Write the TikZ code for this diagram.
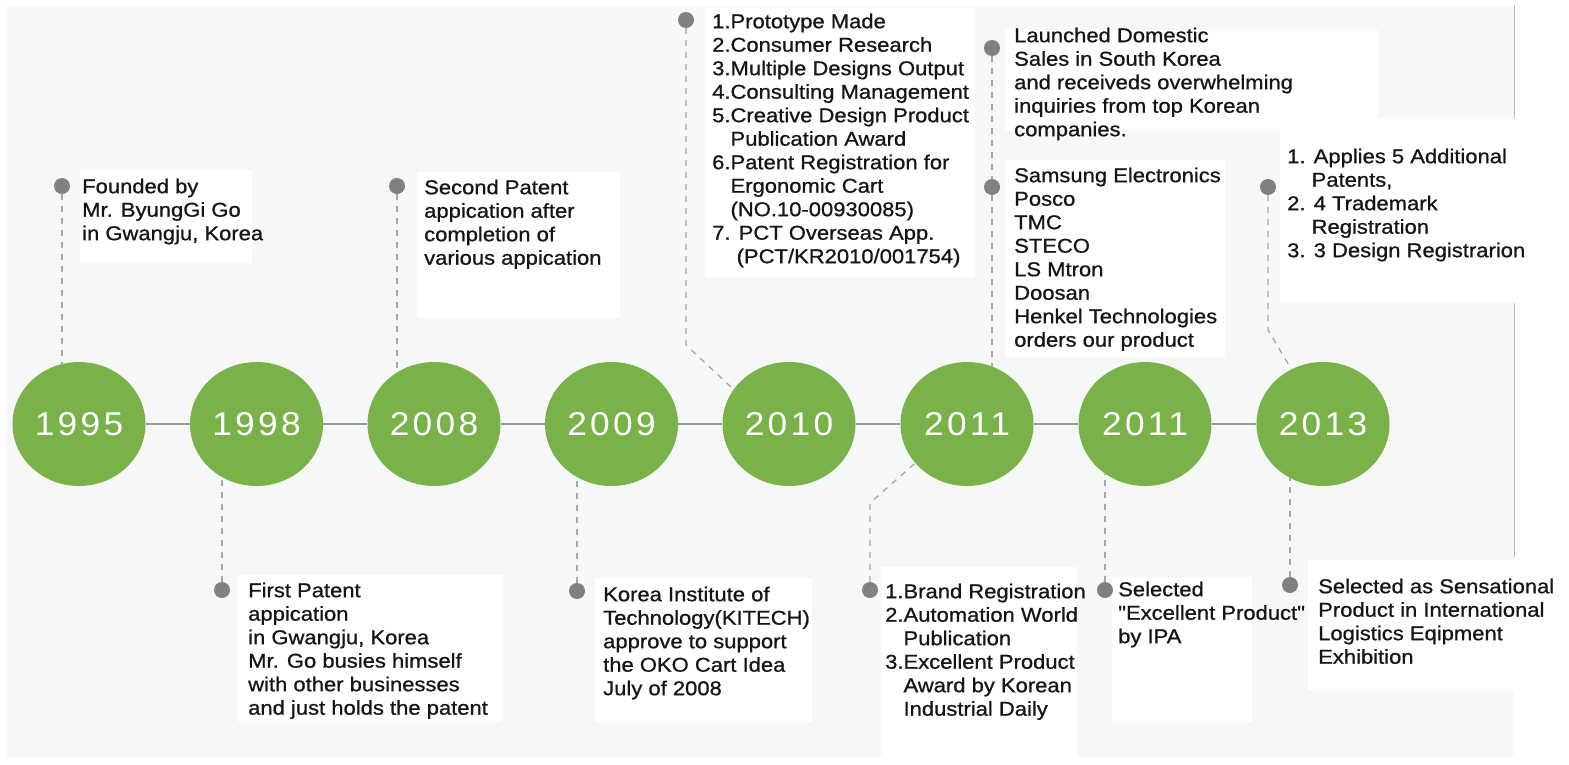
\documentclass[tikz,border=0pt]{standalone}
\usepackage{fontspec}
\setmainfont{Liberation Sans}
\newfontfamily\txtfont[FakeStretch=1.1,FakeBold=0.8]{Liberation Sans}
\newfontfamily\yrfont[FakeStretch=1.07,LetterSpace=10]{Liberation Sans}
\usetikzlibrary{shapes.geometric,calc}
\definecolor{panel}{HTML}{F6F7F7}
\definecolor{yrgreen}{RGB}{122,178,74}
\definecolor{dotgray}{HTML}{808080}
\definecolor{dashgray}{HTML}{A6A6A6}
\definecolor{linegray}{HTML}{999999}
\definecolor{edgegray}{HTML}{B8B8B8}
\definecolor{txt}{HTML}{151515}
\begin{document}
\begin{tikzpicture}[x=1pt,y=-1pt,
  year/.style={ellipse,fill=yrgreen,minimum width=133pt,minimum height=124pt,inner sep=0pt,text=white,font=\yrfont\fontsize{33}{33}\selectfont},
  dot/.style={circle,fill=dotgray,minimum size=16pt,inner sep=0pt},
  info/.style={anchor=north west,inner sep=0pt,align=left,text=txt,font=\txtfont\fontsize{20}{23.5}\selectfont},
  conn/.style={draw=dashgray,line width=1.3pt,dash pattern=on 6pt off 6pt},
  tl/.style={draw=linegray,line width=2pt},
  wbox/.style={fill=white}]
\useasboundingbox (0,0) rectangle (1569,764);
\fill[white] (0,0) rectangle (1569,764);
% panel
\fill[panel] (7,7) rectangle (1514,757);
\draw[edgegray,line width=1pt] (1514,5) -- (1514,118);
\draw[edgegray,line width=1pt] (1514,303) -- (1514,557);
% white text boxes
\fill[wbox] (80,170) rectangle (252,263);
\fill[wbox] (238,575) rectangle (502,722);
\fill[wbox] (417,172) rectangle (620,318);
\fill[wbox] (595,578) rectangle (812,722);
\fill[wbox] (705,8) rectangle (975,277);
\fill[wbox] (1005,30) rectangle (1378,130);
\fill[wbox] (1005,160) rectangle (1225,357);
\fill[wbox] (882,567) rectangle (1077,760);
\fill[wbox] (1112,577) rectangle (1252,722);
\fill[wbox] (1280,118) rectangle (1569,302);
\fill[wbox] (1308,560) rectangle (1569,690);
% year circles
\node[year] (y95) at (79,424) {1995};
\node[year] (y98) at (256.5,424) {1998};
\node[year] (y08) at (434,424) {2008};
\node[year] (y09) at (611.5,424) {2009};
\node[year] (y10) at (789,424) {2010};
\node[year] (y11a) at (967,424) {2011};
\node[year] (y11b) at (1145,424) {2011};
\node[year] (y13) at (1323,424) {2013};
% timeline
\draw[tl] (y95) -- (y98);
\draw[tl] (y98) -- (y08);
\draw[tl] (y08) -- (y09);
\draw[tl] (y09) -- (y10);
\draw[tl] (y10) -- (y11a);
\draw[tl] (y11a) -- (y11b);
\draw[tl] (y11b) -- (y13);
% dots
\node[dot] (d95) at (62,186) {};
\node[dot] (d98) at (222,590) {};
\node[dot] (d08) at (397,186) {};
\node[dot] (d09) at (577,591) {};
\node[dot] (d10) at (686,20) {};
\node[dot] (d11t) at (992,48) {};
\node[dot] (d11m) at (992,187) {};
\node[dot] (d11b) at (870,590) {};
\node[dot] (d11c) at (1105,590) {};
\node[dot] (d13t) at (1268,187) {};
\node[dot] (d13b) at (1290,585) {};
% bend points
\coordinate (c10) at (686,345);
\coordinate (c11b) at (870,503);
\coordinate (c13t) at (1268,330);
% connectors
\draw[conn] (d95) -- (d95 |- y95.106);
\draw[conn] (d98) -- (d98 |- y98.237);
\draw[conn] (d08) -- (d08 |- y08.126);
\draw[conn] (d09) -- (d09 |- y09.237);
\draw[conn] (d10) -- (c10) -- (y10.148);
\draw[conn] (d11t) -- (d11m) -- (d11m |- y11a.66);
\draw[conn] (d11b) -- (c11b) -- (y11a.217);
\draw[conn] (d11c) -- (d11c |- y11b.231);
\draw[conn] (d13t) -- (c13t) -- (y13.120);
\draw[conn] (d13b) -- (d13b |- y13.238);
% texts (y = first baseline - 14.5)
\node[info] (t95) at (82,178.5) {Founded by\\Mr. ByungGi Go\\in Gwangju, Korea};
\node[info] (t98) at (248,582.5) {First Patent\\appication\\in Gwangju, Korea\\Mr. Go busies himself\\with other businesses\\and just holds the patent};
\node[info] (t08) at (424,179.5) {Second Patent\\appication after\\completion of\\various appication};
\node[info] (t09) at (603,586.5) {Korea Institute of\\Technology(KITECH)\\approve to support\\the OKO Cart Idea\\July of 2008};
\node[info] (t10) at (712,13.5) {1.Prototype Made\\2.Consumer Research\\3.Multiple Designs Output\\4.Consulting Management\\5.Creative Design Product\\\phantom{5.}Publication Award\\6.Patent Registration for\\\phantom{6.}Ergonomic Cart\\\phantom{6.}(NO.10-00930085)\\7. PCT Overseas App.\\\phantom{7.\ }(PCT/KR2010/001754)};
\node[info] (t11t) at (1014,27.5) {Launched Domestic\\Sales in South Korea\\and receiveds overwhelming\\inquiries from top Korean\\companies.};
\node[info] (t11m) at (1014,167.5) {Samsung Electronics\\Posco\\TMC\\STECO\\LS Mtron\\Doosan\\Henkel Technologies\\orders our product};
\node[info] (t11b) at (885,583.5) {1.Brand Registration\\2.Automation World\\\phantom{2.}Publication\\3.Excellent Product\\\phantom{3.}Award by Korean\\\phantom{3.}Industrial Daily};
\node[info] (t11c) at (1118,581.5) {Selected\\"Excellent Product"\\by IPA};
\node[info] (t13t) at (1287,148.5) {1. Applies 5 Additional\\\phantom{1.\ }Patents,\\2. 4 Trademark\\\phantom{2.\ }Registration\\3. 3 Design Registrarion};
\node[info] (t13b) at (1318,578.5) {Selected as Sensational\\Product in International\\Logistics Eqipment\\Exhibition};
\end{tikzpicture}
\end{document}
